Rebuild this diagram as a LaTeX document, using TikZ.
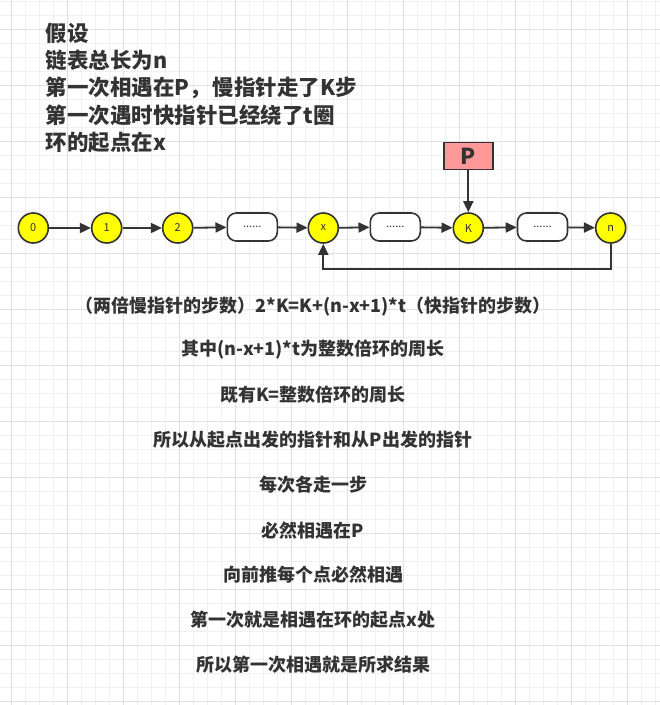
\documentclass[tikz,border=0pt]{standalone}
\usepackage{fontspec}
\newfontfamily\cjk{Noto Sans CJK SC}
\usetikzlibrary{arrows.meta}
\definecolor{ink}{HTML}{333333}
\definecolor{gridminor}{HTML}{F0F0F0}
\definecolor{gridmajor}{HTML}{E0E0E0}
\definecolor{pfill}{HTML}{FF9999}
\definecolor{nodeyellow}{HTML}{FFFF00}
\tikzset{
  listnode/.style={circle,draw=ink,line width=1.6pt,fill=nodeyellow,minimum size=30pt,inner sep=0pt,text=ink,font=\cjk\fontsize{11}{13}\selectfont},
  gapbox/.style={rectangle,rounded corners=9pt,draw=ink,line width=1.6pt,fill=white,minimum width=50pt,minimum height=28pt,inner sep=0pt,text=ink,font=\cjk\fontsize{11}{13}\selectfont},
  pbox/.style={rectangle,draw=ink,line width=1.6pt,fill=pfill,minimum width=49pt,minimum height=27pt,inner sep=0pt,text=ink,font=\cjk\bfseries\fontsize{22}{24}\selectfont},
  link/.style={draw=ink,line width=1.8pt,-{Triangle[length=11pt,width=10pt]}},
  headtext/.style={anchor=west,inner sep=0pt,text=ink,font=\cjk\bfseries\fontsize{21.5}{24}\selectfont},
  bodytext/.style={anchor=center,inner sep=0pt,text=ink,font=\cjk\bfseries\fontsize{18}{20}\selectfont}
}
\begin{document}
\begin{tikzpicture}[x=1pt,y=-1pt]
\useasboundingbox (0,0) rectangle (660,705);
\fill[white] (0,0) rectangle (660,705);
% grid
\foreach \gx in {-2.3,11.7,...,662} \draw[gridminor,line width=0.9pt] (\gx,0) -- (\gx,705);
\foreach \gy in {1.3,15.3,...,706} \draw[gridminor,line width=0.9pt] (0,\gy) -- (660,\gy);
\foreach \gx in {11.7,67.7,...,662} \draw[gridmajor,line width=0.9pt] (\gx,0) -- (\gx,705);
\foreach \gy in {29.3,85.3,...,706} \draw[gridmajor,line width=0.9pt] (0,\gy) -- (660,\gy);

% header text
\node[headtext] (h1) at (45.5,33) {假设};
\node[headtext] (h2) at (45.5,60.5) {链表总长为n};
\node[headtext] (h3) at (45.5,88) {第一次相遇在P，\hspace{2pt}慢指针走了K步};
\node[headtext] (h4) at (45.5,115) {第一次遇时快指针已经绕了t圈};
\node[headtext] (h5) at (45.5,142) {环的起点在x};

% list
\node[listnode] (n0) at (33.3,228) {0};
\node[listnode] (n1) at (106.7,228) {1};
\node[listnode] (n2) at (177.7,228) {2};
\node[gapbox] (r1) at (252.3,227) {......};
\node[listnode] (nx) at (323.3,228) {x};
\node[gapbox] (r2) at (395.3,227) {......};
\node[listnode] (nk) at (468.3,228) {K};
\node[gapbox] (r3) at (542.5,227) {......};
\node[listnode] (nn) at (610.7,228) {n};
\node[pbox] (P) at (468.3,156) {P};
\coordinate (loopy) at (0,269.3);

\draw[link] (n0) -- (n1);
\draw[link] (n1) -- (n2);
\draw[link] (n2) -- (r1);
\draw[link] (r1) -- (nx);
\draw[link] (nx) -- (r2);
\draw[link] (r2) -- (nk);
\draw[link] (nk) -- (r3);
\draw[link] (r3) -- (nn);
\draw[link] (P) -- (nk);
\draw[link] (nn.south) -- (nn.south |- loopy) -| (nx.south);

% body text
\node[bodytext] (b1) at (313,306.7) {（两倍慢指针的步数）2*K=K+(n-x+1)*t（快指针的步数）};
\node[bodytext] (b2) at (313,350) {其中(n-x+1)*t为整数倍环的周长};
\node[bodytext] (b3) at (313,395) {既有K=整数倍环的周长};
\node[bodytext] (b4) at (313,440) {所以从起点出发的指针和从P出发的指针};
\node[bodytext] (b5) at (313,485) {每次各走一步};
\node[bodytext] (b6) at (313,531) {必然相遇在P};
\node[bodytext] (b7) at (313,575) {向前推每个点必然相遇};
\node[bodytext] (b8) at (313,620) {第一次就是相遇在环的起点x处};
\node[bodytext] (b9) at (313,665) {所以第一次相遇就是所求结果};
\end{tikzpicture}
\end{document}
